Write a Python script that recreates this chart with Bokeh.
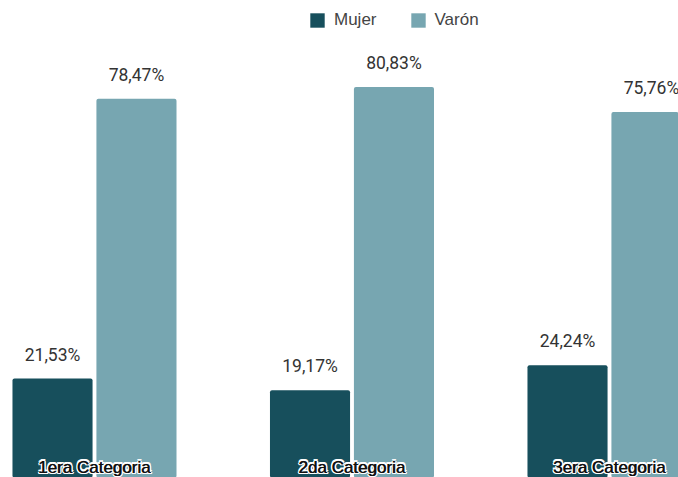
from bokeh.plotting import figure
from bokeh.models import ColumnDataSource, Range1d, Legend, LegendItem
from bokeh.core.properties import value
from bokeh.transform import dodge
from bokeh.embed import file_html
from bokeh.resources import INLINE

categories = ["1era Categoria", "2da Categoria", "3era Categoria"]
mujer = [21.53, 19.17, 24.24]
varon = [78.47, 80.83, 75.76]
series_names = ["Mujer", "Varón"]

C_MUJER = "#174f5c"
C_VARON = "#77a6b1"

def fmt(v):
    return f"{v:.2f}".replace(".", ",") + "%"

idx = list(range(len(categories)))
src = ColumnDataSource(dict(
    x=idx, cat=categories, mujer=mujer, varon=varon,
    mujer_lbl=[fmt(v) for v in mujer], varon_lbl=[fmt(v) for v in varon],
))

p = figure(width=678, height=477, output_backend="svg", toolbar_location=None,
           x_range=Range1d(-0.365, 2.268), y_range=Range1d(1.42, 98.43),
           min_border=0, outline_line_color=None)
p.axis.visible = False
p.grid.visible = False

OFF = 0.163
W = 0.311
r_m = p.vbar(x=dodge("x", -OFF, range=p.x_range), top="mujer", bottom=0, width=W,
             source=src, fill_color=C_MUJER, line_color=None, border_radius=2)
r_v = p.vbar(x=dodge("x", OFF, range=p.x_range), top="varon", bottom=0, width=W,
             source=src, fill_color=C_VARON, line_color=None, border_radius=2)

lbl_kw = dict(text_font=value("Roboto"), text_font_size="17.5px", text_color="#333333",
              text_align="center", text_baseline="alphabetic", y_offset=-24)
p.text(x=dodge("x", -OFF, range=p.x_range), y="mujer", text="mujer_lbl", source=src, **lbl_kw)
p.text(x=dodge("x", OFF, range=p.x_range), y="varon", text="varon_lbl", source=src, **lbl_kw)

# category labels with white outline
cat_kw = dict(text_font=value("Liberation Sans"), text_font_size="17px",
              text_align="center", text_baseline="bottom")
ybase = p.y_range.start
for dx, dy in [(-1.6, 0), (1.6, 0), (0, -1.6), (0, 1.6), (-1.2, -1.2), (1.2, -1.2), (-1.2, 1.2), (1.2, 1.2)]:
    p.text(x="x", y=ybase, text="cat", source=src, text_color="white",
           x_offset=dx, y_offset=dy - 1, **cat_kw)
for dx in (-0.3, 0.3):
    p.text(x="x", y=ybase, text="cat", source=src, text_color="#111111",
           x_offset=dx, y_offset=-1, **cat_kw)

legend = Legend(items=[LegendItem(label=series_names[0], renderers=[r_m]),
                       LegendItem(label=series_names[1], renderers=[r_v])],
                orientation="horizontal", location=(304, 443),
                background_fill_alpha=0, border_line_alpha=0,
                glyph_width=18, glyph_height=18, label_standoff=8, spacing=32,
                padding=4, margin=0,
                label_text_font="Liberation Sans", label_text_font_size="17px",
                label_text_color="#444444")
p.add_layout(legend)

open("out.html", "w").write(file_html(p, INLINE))
